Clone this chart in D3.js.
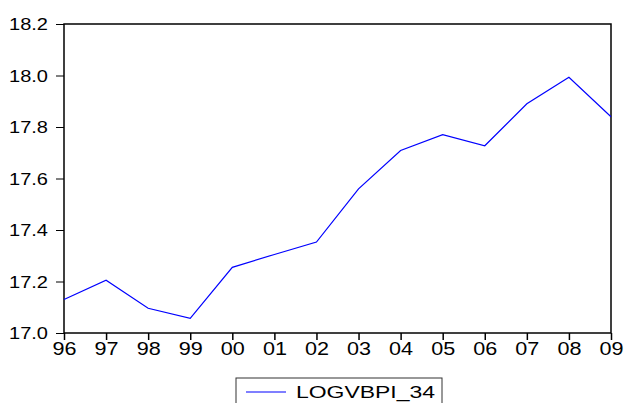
<!DOCTYPE html>
<html>
<head>
<meta charset="utf-8">
<script src="https://cdn.jsdelivr.net/npm/d3@7/dist/d3.min.js"></script>
<style>
  html, body { margin: 0; padding: 0; background: #fff; }
  svg { display: block; }
  text { font-family: "Liberation Sans", Arial, sans-serif; fill: #000; }
</style>
</head>
<body>
<svg id="chart" width="625" height="403"></svg>
<script>
// Annual observations, 1996-2009
const years = ["96","97","98","99","00","01","02","03","04","05","06","07","08","09"];
const logvbpi = [17.13, 17.205, 17.096, 17.057, 17.255, 17.305, 17.353, 17.56, 17.709, 17.77, 17.727, 17.89, 17.993, 17.84];
const yTicks = [17.0, 17.2, 17.4, 17.6, 17.8, 18.0, 18.2];
const seriesName = "LOGVBPI_34";

const svg = d3.select("#chart");
const plot = { left: 64, right: 611, top: 24, bottom: 333 };

const x = d3.scalePoint().domain(years).range([plot.left, plot.right]);
const y = d3.scaleLinear().domain([17.0, 18.2]).range([plot.bottom, plot.top]);

// y axis (ticks outside, left)
const yAxis = svg.append("g")
  .attr("transform", `translate(${plot.left},0)`)
  .call(d3.axisLeft(y).tickValues(yTicks).tickFormat(d3.format(".1f")).tickSize(8).tickPadding(8));
yAxis.select(".domain").remove();
yAxis.selectAll(".tick line").attr("stroke", "#000").attr("stroke-width", 1);
yAxis.selectAll(".tick text")
  .attr("font-size", 16.5)
  .attr("textLength", 39)
  .attr("lengthAdjust", "spacingAndGlyphs")
  .attr("dy", "0.36em");

// x axis (ticks outside, below)
const xAxis = svg.append("g")
  .attr("transform", `translate(0,${plot.bottom})`)
  .call(d3.axisBottom(x).tickSize(7).tickPadding(2));
xAxis.select(".domain").remove();
xAxis.selectAll(".tick line").attr("stroke", "#000").attr("stroke-width", 1.5);
xAxis.selectAll(".tick text")
  .attr("font-size", 19)
  .attr("textLength", 24)
  .attr("lengthAdjust", "spacingAndGlyphs");

// frame
svg.append("rect")
  .attr("x", plot.left).attr("y", plot.top)
  .attr("width", plot.right - plot.left).attr("height", plot.bottom - plot.top)
  .attr("fill", "none").attr("stroke", "#000").attr("stroke-width", 1.5);

// series line
const line = d3.line()
  .x((d, i) => x(years[i]))
  .y(d => y(d));
svg.append("path")
  .datum(logvbpi)
  .attr("d", line)
  .attr("fill", "none")
  .attr("stroke", "#0000ff")
  .attr("stroke-width", 1.2);

// legend
const lg = svg.append("g");
lg.append("rect")
  .attr("x", 236).attr("y", 378)
  .attr("width", 206).attr("height", 40)
  .attr("fill", "#fff").attr("stroke", "#333").attr("stroke-width", 1);
lg.append("line")
  .attr("x1", 246).attr("x2", 286).attr("y1", 392).attr("y2", 392)
  .attr("stroke", "#0000ff").attr("stroke-width", 1.2);
lg.append("text")
  .attr("x", 296).attr("y", 398)
  .attr("font-size", 16)
  .attr("textLength", 139)
  .attr("lengthAdjust", "spacingAndGlyphs")
  .text(seriesName);
</script>
</body>
</html>
